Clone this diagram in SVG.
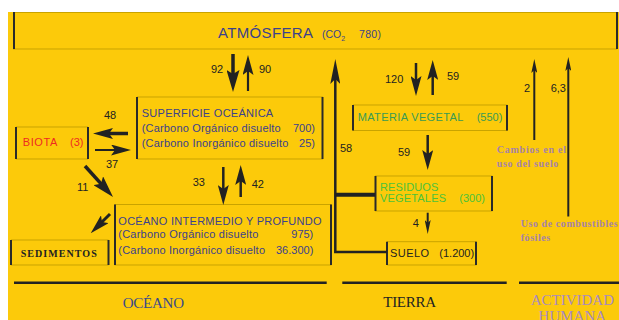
<svg xmlns="http://www.w3.org/2000/svg" width="619" height="320" viewBox="0 0 619 320">
<style>
.bg{fill:#FCCA0A}
.bt{stroke:#C9A300;stroke-width:1;fill:none}
.bs{stroke:#2a2a2a;stroke-width:2;fill:none}
.t{font-family:"Liberation Sans",Arial,sans-serif;font-size:11px}
.blue{fill:#3b418c}
.num{fill:#222;font-family:"Liberation Sans",Arial,sans-serif;font-size:11px}
.red{fill:#ee2a22}
.grn{fill:#3a9a55}
.grn2{fill:#4cc23a}
.lil{fill:#a683a8;font-family:"Liberation Serif","Times New Roman",serif;font-size:10px;font-weight:bold}
.big{font-family:"Liberation Serif","Times New Roman",serif;font-size:15px}
.ar{stroke:#222;fill:none}
.hl{stroke:#222;stroke-width:2.5}
</style>
<defs>
<marker id="hb" markerUnits="userSpaceOnUse" markerWidth="22" markerHeight="13" refX="9" refY="6.5" orient="auto"><path d="M0,0 L22,6.5 L0,13 L4,6.5 z" fill="#222"/></marker>
<marker id="hm" markerUnits="userSpaceOnUse" markerWidth="20" markerHeight="11" refX="8" refY="5.5" orient="auto"><path d="M0,0 L20,5.5 L0,11 L4,5.5 z" fill="#222"/></marker>
<marker id="hl" markerUnits="userSpaceOnUse" markerWidth="25" markerHeight="10" refX="10" refY="5" orient="auto"><path d="M0,0 L25,5 L0,10 L5,5 z" fill="#222"/></marker>
<marker id="hs" markerUnits="userSpaceOnUse" markerWidth="14" markerHeight="6" refX="6" refY="3" orient="auto"><path d="M0,0 L14,3 L0,6 L3,3 z" fill="#222"/></marker>
</defs>
<rect class="bg" x="8" y="12" width="611" height="308"/>

<g id="atmosfera">
<line class="bt" x1="13" y1="12.5" x2="617" y2="12.5"/><line class="bt" x1="13" y1="49" x2="617" y2="49"/>
<line class="bs" x1="14" y1="12" x2="14" y2="49"/><line class="bs" x1="617" y1="12" x2="617" y2="49"/>
<text class="blue" x="218" y="38" font-family="Liberation Sans,Arial,sans-serif" font-size="15" textLength="95">ATMÓSFERA</text>
<text class="blue" x="322" y="38" font-family="Liberation Sans,Arial,sans-serif" font-size="10.5">(CO<tspan font-size="7" dy="3">2</tspan></text>
<text class="blue" x="359" y="38" font-family="Liberation Sans,Arial,sans-serif" font-size="10.5" textLength="22">780)</text>
</g>

<g id="superficie">
<line class="bt" x1="137" y1="97" x2="323" y2="97"/><line class="bt" x1="137" y1="159" x2="323" y2="159"/>
<line class="bs" x1="137" y1="97" x2="137" y2="159"/><line class="bs" x1="322.5" y1="97" x2="322.5" y2="159"/>
<text class="t blue" x="141.7" y="117" textLength="131.5">SUPERFICIE OCEÁNICA</text>
<text class="t blue" x="141.7" y="132" textLength="139">(Carbono Orgánico disuelto</text>
<text class="t blue" x="315" y="132" text-anchor="end">700)</text>
<text class="t blue" x="141.7" y="147" textLength="146.6">(Carbono Inorgánico disuelto</text>
<text class="t blue" x="315" y="147" text-anchor="end">25)</text>
</g>

<g id="biota">
<line class="bt" x1="16" y1="127" x2="88" y2="127"/><line class="bt" x1="16" y1="159" x2="88" y2="159"/>
<line class="bs" x1="16" y1="127" x2="16" y2="159"/><line class="bs" x1="88" y1="127" x2="88" y2="159"/>
<text class="t red" x="22.7" y="146" textLength="34.6">BIOTA</text>
<text class="t red" x="70" y="146">(3)</text>
</g>

<g id="oceano-profundo">
<line class="bt" x1="114.5" y1="204.5" x2="331.5" y2="204.5"/><line class="bt" x1="114.5" y1="265" x2="331.5" y2="265"/>
<line class="bs" x1="115" y1="204.5" x2="115" y2="265"/><line class="bs" x1="331" y1="204.5" x2="331" y2="265"/>
<text class="t blue" x="118.3" y="225" textLength="203.3">OCÉANO INTERMEDIO Y PROFUNDO</text>
<text class="t blue" x="118.3" y="238" textLength="140">(Carbono Orgánico disuelto</text>
<text class="t blue" x="313.3" y="238" text-anchor="end">975)</text>
<text class="t blue" x="118.3" y="254" textLength="146.7">(Carbono Inorgánico disuelto</text>
<text class="t blue" x="313.3" y="254" text-anchor="end">36.300)</text>
</g>

<g id="sedimentos">
<line class="bt" x1="11" y1="240" x2="108.5" y2="240"/><line class="bt" x1="11" y1="265" x2="108.5" y2="265"/>
<line class="bs" x1="11" y1="240" x2="11" y2="265"/><line class="bs" x1="108.5" y1="240" x2="108.5" y2="265"/>
<text x="20.7" y="256.5" fill="#222" font-family="Liberation Serif,Times New Roman,serif" font-size="10" font-weight="bold" textLength="76">SEDIMENTOS</text>
</g>

<g id="materia-vegetal">
<line class="bt" x1="353" y1="105" x2="507.5" y2="105"/><line class="bt" x1="353" y1="130.5" x2="507.5" y2="130.5"/>
<line class="bs" x1="353" y1="105" x2="353" y2="130.5"/><line class="bs" x1="507" y1="105" x2="507" y2="130.5"/>
<text class="t grn" x="357.7" y="120.5" textLength="105.6">MATERIA VEGETAL</text>
<text class="t grn" x="476.7" y="120.5">(550)</text>
</g>

<g id="residuos-vegetales">
<line class="bt" x1="375" y1="176" x2="492.5" y2="176"/><line class="bt" x1="375" y1="211" x2="492.5" y2="211"/>
<line class="bs" x1="375.5" y1="176" x2="375.5" y2="211"/><line class="bs" x1="492" y1="176" x2="492" y2="211"/>
<text class="t grn2" x="380" y="190.5" textLength="58.3">RESIDUOS</text>
<text class="t grn2" x="380" y="202" textLength="66">VEGETALES</text>
<text class="t grn2" x="459.3" y="202">(300)</text>
</g>

<g id="suelo">
<line class="bt" x1="387" y1="241.7" x2="476.5" y2="241.7"/><line class="bt" x1="387" y1="265" x2="476.5" y2="265"/>
<line class="bs" x1="387" y1="241.7" x2="387" y2="265"/><line class="bs" x1="476" y1="241.7" x2="476" y2="265"/>
<text class="t" fill="#222" x="390" y="256.5" textLength="39">SUELO</text>
<text class="t" fill="#222" x="439.3" y="256.5">(1.200)</text>
</g>

<g id="connectors">
<line class="ar" stroke-width="3.5" x1="233" y1="54" x2="233" y2="79" marker-end="url(#hb)"/>
<line class="ar" stroke-width="2.2" x1="248" y1="91" x2="248" y2="67" marker-end="url(#hm)"/>
<line class="ar" stroke-width="3.5" x1="128" y1="133.5" x2="105" y2="133.5" marker-end="url(#hm)"/>
<line class="ar" stroke-width="2" x1="95" y1="150" x2="119" y2="150" marker-end="url(#hm)"/>
<line class="ar" stroke-width="3.5" x1="85" y1="166" x2="104.3" y2="187.4" marker-end="url(#hb)"/>
<line class="ar" stroke-width="2.5" x1="223.3" y1="167" x2="223.3" y2="193" marker-end="url(#hm)"/>
<line class="ar" stroke-width="2.5" x1="240.7" y1="197" x2="240.7" y2="177" marker-end="url(#hm)"/>
<line class="ar" stroke-width="3" x1="110" y1="214" x2="99.2" y2="224.8" marker-end="url(#hm)"/>
<path class="ar" stroke-width="2.5" d="M387,252 H335.3 V74" marker-end="url(#hl)"/>
<line class="ar" stroke-width="4" x1="335.3" y1="194.7" x2="375" y2="194.7"/>
<line class="ar" stroke-width="2.5" x1="416" y1="63" x2="416" y2="84" marker-end="url(#hm)"/>
<line class="ar" stroke-width="2.5" x1="432.7" y1="95" x2="432.7" y2="72" marker-end="url(#hm)"/>
<line class="ar" stroke-width="2.5" x1="427.7" y1="135" x2="427.7" y2="158" marker-end="url(#hm)"/>
<line class="ar" stroke-width="2" x1="427.7" y1="212.7" x2="427.7" y2="226" marker-end="url(#hs)"/>
<line class="ar" stroke-width="2" x1="534.3" y1="140" x2="534.3" y2="67" marker-end="url(#hs)"/>
<line class="ar" stroke-width="2" x1="568.3" y1="216.5" x2="568.3" y2="65" marker-end="url(#hs)"/>
</g>

<g id="labels">
<text class="num" x="211" y="73.3">92</text>
<text class="num" x="259" y="73.3">90</text>
<text class="num" x="104" y="119">48</text>
<text class="num" x="106" y="168">37</text>
<text class="num" x="77" y="190.5">11</text>
<text class="num" x="192.7" y="186">33</text>
<text class="num" x="251.7" y="188">42</text>
<text class="num" x="340" y="152">58</text>
<text class="num" x="385" y="83.3">120</text>
<text class="num" x="447" y="80">59</text>
<text class="num" x="398" y="156">59</text>
<text class="num" x="412.7" y="227.3">4</text>
<text class="num" x="524" y="92.3">2</text>
<text class="num" x="550.7" y="92.3">6,3</text>
<text class="lil" x="496.7" y="152.7" textLength="69.3">Cambios en el</text>
<text class="lil" x="496.7" y="167.3" textLength="61.6">uso del suelo</text>
<text class="lil" x="520.7" y="226.7" textLength="97">Uso de combustibles</text>
<text class="lil" x="520.7" y="240.7" textLength="29.5">fósiles</text>
</g>

<g id="sections">
<line class="hl" x1="14" y1="282.7" x2="326.7" y2="282.7"/>
<line class="hl" x1="342.3" y1="282.7" x2="506.7" y2="282.7"/>
<line class="hl" x1="519" y1="282.7" x2="619" y2="282.7"/>
<text class="big" x="122.7" y="308" fill="#3b4a8a" textLength="61.3">OCÉANO</text>
<text class="big" x="383.3" y="306.7" fill="#222" textLength="52.7">TIERRA</text>
<text class="big" x="530.7" y="304.5" fill="#a88ac0" textLength="83.3">ACTIVIDAD</text>
<text class="big" x="572.3" y="320.5" fill="#a88ac0" text-anchor="middle">HUMANA</text>
</g>
</svg>
